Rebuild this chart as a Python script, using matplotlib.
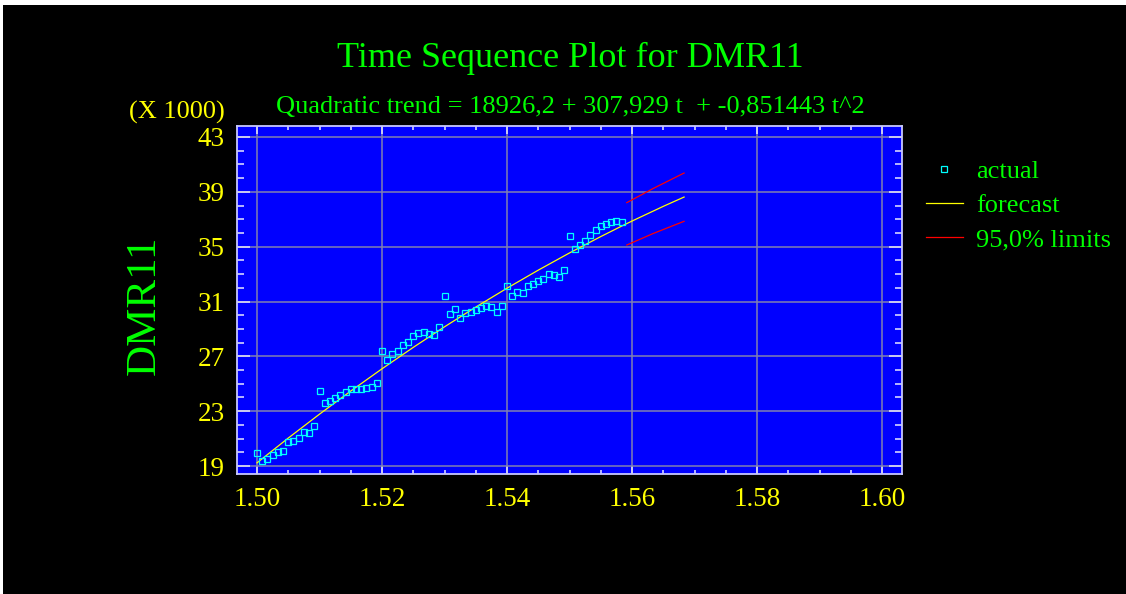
import numpy as np
import matplotlib
matplotlib.use("Agg")
import matplotlib.pyplot as plt
from matplotlib.patches import Rectangle
from matplotlib.ticker import MultipleLocator, FormatStrFormatter

plt.rcParams['font.family'] = ['Liberation Serif', 'DejaVu Serif']

# monthly periods, time axis starts at 1.500 with 12 periods per 0.01
t_start = 1.500
t_step = 1.0 / 1200
periods = np.arange(1, 72)

# actual DMR11 values (X 1000)
actual = [19.98, 19.34, 19.54, 19.80, 20.00, 20.12, 20.75, 20.80, 21.04, 21.48,
          21.38, 21.90, 24.50, 23.62, 23.77, 23.96, 24.16, 24.38, 24.65, 24.59,
          24.59, 24.67, 24.74, 25.05, 27.39, 26.71, 27.15, 27.42, 27.80, 28.07,
          28.51, 28.73, 28.77, 28.66, 28.53, 29.17, 31.40, 30.12, 30.45, 29.77,
          30.19, 30.26, 30.41, 30.55, 30.70, 30.63, 30.26, 30.65, 32.11, 31.43,
          31.72, 31.65, 32.11, 32.30, 32.52, 32.64, 33.03, 32.91, 32.81, 33.32,
          35.80, 34.83, 35.15, 35.44, 35.88, 36.24, 36.48, 36.65, 36.80, 36.90,
          36.83]

# quadratic trend line, read at selected periods
fc_periods = [1, 7, 13, 19, 25, 31, 37, 43, 49, 55, 61, 67, 71, 73, 79, 83]
forecast = [19.233, 21.040, 22.785, 24.469, 26.092, 27.654, 29.154, 30.593,
            31.970, 33.287, 34.542, 35.735, 36.497, 36.868, 37.939, 38.619]

# 95% limits for the forecast periods
lim_periods = [72, 77, 83]
upper = [38.21, 39.23, 40.37]
lower = [35.12, 35.95, 36.85]

title = "Time Sequence Plot for DMR11"
subtitle = "Quadratic trend = 18926,2 + 307,929 t  + -0,851443 t^2"

def to_x(p):
    return t_start + (np.asarray(p) - 1) * t_step

green = '#00ff00'
yellow = '#ffff00'

fig = plt.figure(figsize=(11.26, 5.94), dpi=100, facecolor='white')
fig.patches.append(Rectangle((3 / 1126, 0), 1, 1 - 5 / 594, transform=fig.transFigure,
                             facecolor='black', edgecolor='none', zorder=-10))

ax = fig.add_axes([237 / 1126, 120 / 594, 665 / 1126, 348 / 594])
ax.set_facecolor('#0000ff')

ax.plot(to_x(periods), actual, linestyle='none', marker='s', markersize=3.7,
        markerfacecolor='none', markeredgecolor='#00ffff', markeredgewidth=0.9,
        label='actual', zorder=4)
ax.plot(to_x(fc_periods), forecast, color=yellow, lw=0.9, label='forecast', zorder=3)
ax.plot(to_x(lim_periods), upper, color='#ff0000', lw=0.9, label='95,0% limits', zorder=3)
ax.plot(to_x(lim_periods), lower, color='#ff0000', lw=0.9, zorder=3)

ax.set_xlim(1.4968, 1.6032)
ax.set_ylim(18.42, 43.8)
ax.xaxis.set_major_locator(MultipleLocator(0.02))
ax.xaxis.set_minor_locator(MultipleLocator(0.005))
ax.yaxis.set_minor_locator(MultipleLocator(1))
ax.set_yticks([19, 23, 27, 31, 35, 39, 43])
ax.xaxis.set_major_formatter(FormatStrFormatter('%.2f'))

ax.grid(True, which='major', color='#8080b0', lw=1.1)
ax.set_axisbelow(True)
for s in ax.spines.values():
    s.set_color('#c8c8ff')
    s.set_linewidth(1.3)

ax.tick_params(axis='both', which='both', direction='in', colors='#e8e8ff',
               labelcolor=yellow, labelsize=19.5, top=True, right=True)
ax.tick_params(axis='x', which='major', length=5.5, width=1.1, pad=9)
ax.tick_params(axis='x', which='minor', length=3, width=1.1)
ax.tick_params(axis='y', which='major', length=9.5, width=1.1, pad=9)
ax.tick_params(axis='y', which='minor', length=5, width=1.1)

fig.text(570 / 1126, 1 - 58 / 594, title, color=green, fontsize=26,
         ha='center', va='center')
fig.text(570 / 1126, 1 - 107 / 594, subtitle, color=green, fontsize=19,
         ha='center', va='center')
fig.text(177 / 1126, 1 - 112 / 594, "(X 1000)", color=yellow, fontsize=19,
         ha='center', va='center')
fig.text(145 / 1126, 1 - 305 / 594, "DMR11", color=green, fontsize=31,
         rotation=90, ha='center', va='center')

leg = fig.legend(loc='upper left', bbox_to_anchor=(926 / 1126, 1 - 160 / 594),
                 frameon=False, fontsize=19, handlelength=1.4, handletextpad=0.5,
                 labelspacing=0.4, borderpad=0, borderaxespad=0, markerscale=1.0)
for txt in leg.get_texts():
    txt.set_color(green)

fig.savefig('out.png', dpi=100, facecolor=fig.get_facecolor())
